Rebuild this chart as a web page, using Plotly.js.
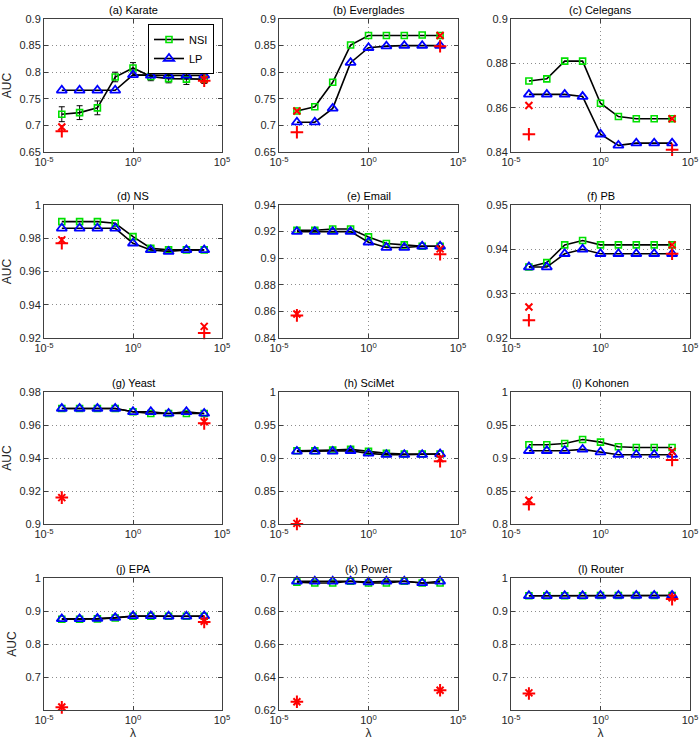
<!DOCTYPE html>
<html>
<head>
<meta charset="utf-8">
<script src="https://cdn.plot.ly/plotly-3.0.1.min.js"></script>
<style>
  html, body { margin: 0; padding: 0; background: #fff; }
  #chart { width: 700px; height: 744px; }
</style>
</head>
<body>
<div id="chart"></div>
<script>
// ---------------- data ----------------
const lambda = [1e-4, 1e-3, 1e-2, 1e-1, 1, 1e1, 1e2, 1e3, 1e4];
const redLambda = [1e-4, 1e4];

const titles = ['(a) Karate', '(b) Everglades', '(c) Celegans', '(d) NS', '(e) Email', '(f) PB',
                '(g) Yeast', '(h) SciMet', '(i) Kohonen', '(j) EPA', '(k) Power', '(l) Router'];

const nsiA = [0.721, 0.724, 0.733, 0.791, 0.808, 0.792, 0.788, 0.787, 0.787];
const lpA  = [0.766, 0.766, 0.766, 0.766, 0.795, 0.794, 0.794, 0.794, 0.794];
const errA = [0.014, 0.013, 0.013, 0.009, 0.010, 0.008, 0.008, 0.010, 0.008];
const redXA = [0.697, 0.786], redPlusA = [0.689, 0.784];

const nsiB = [0.727, 0.735, 0.781, 0.851, 0.869, 0.869, 0.869, 0.870, 0.869];
const lpB  = [0.706, 0.706, 0.732, 0.818, 0.846, 0.849, 0.850, 0.850, 0.850];
const redXB = [0.727, 0.869], redPlusB = [0.687, 0.849];

const nsiC = [0.872, 0.873, 0.881, 0.881, 0.862, 0.856, 0.855, 0.855, 0.855];
const lpC  = [0.866, 0.866, 0.866, 0.865, 0.848, 0.843, 0.844, 0.844, 0.844];
const redXC = [0.861, 0.855], redPlusC = [0.848, 0.841];

const nsiD = [0.990, 0.990, 0.990, 0.989, 0.981, 0.974, 0.973, 0.973, 0.973];
const lpD  = [0.986, 0.986, 0.986, 0.986, 0.977, 0.973, 0.972, 0.973, 0.973];
const redXD = [0.979, 0.927], redPlusD = [0.977, 0.923];

const nsiE = [0.921, 0.921, 0.922, 0.922, 0.916, 0.911, 0.910, 0.909, 0.909];
const lpE  = [0.920, 0.920, 0.920, 0.920, 0.912, 0.908, 0.908, 0.909, 0.909];
const redXE = [0.858, 0.907], redPlusE = [0.857, 0.903];

const nsiF = [0.936, 0.937, 0.941, 0.942, 0.941, 0.941, 0.941, 0.941, 0.941];
const lpF  = [0.936, 0.936, 0.939, 0.940, 0.939, 0.939, 0.939, 0.939, 0.939];
const redXF = [0.927, 0.941], redPlusF = [0.924, 0.939];

const nsiG = [0.970, 0.970, 0.970, 0.970, 0.968, 0.967, 0.967, 0.967, 0.967];
const lpG  = [0.970, 0.970, 0.970, 0.970, 0.968, 0.968, 0.967, 0.968, 0.967];
const redXG = [0.916, 0.962], redPlusG = [0.916, 0.961];

const nsiH = [0.911, 0.911, 0.912, 0.913, 0.910, 0.907, 0.906, 0.906, 0.906];
const lpH  = [0.910, 0.910, 0.910, 0.911, 0.907, 0.905, 0.905, 0.905, 0.906];
const redXH = [0.801, 0.899], redPlusH = [0.800, 0.895];

const nsiI = [0.920, 0.920, 0.922, 0.928, 0.924, 0.917, 0.916, 0.916, 0.916];
const lpI  = [0.911, 0.911, 0.911, 0.913, 0.909, 0.905, 0.905, 0.905, 0.905];
const redXI = [0.836, 0.910], redPlusI = [0.830, 0.897];

const nsiJ = [0.875, 0.875, 0.876, 0.879, 0.884, 0.884, 0.884, 0.884, 0.884];
const lpJ  = [0.876, 0.876, 0.877, 0.880, 0.885, 0.885, 0.884, 0.884, 0.885];
const redXJ = [0.609, 0.869], redPlusJ = [0.608, 0.867];

const nsiK = [0.6975, 0.697, 0.697, 0.698, 0.697, 0.697, 0.698, 0.697, 0.697];
const lpK  = [0.698, 0.698, 0.698, 0.698, 0.6975, 0.698, 0.698, 0.697, 0.698];
const redXK = [0.625, 0.632], redPlusK = [0.625, 0.632];

const nsiL = [0.946, 0.946, 0.946, 0.946, 0.947, 0.947, 0.947, 0.947, 0.947];
const lpL  = [0.946, 0.946, 0.946, 0.946, 0.947, 0.947, 0.947, 0.947, 0.947];
const redXL = [0.652, 0.940], redPlusL = [0.650, 0.936];

// y-axis ticks per panel
const yTicksA = [0.65, 0.7, 0.75, 0.8, 0.85, 0.9];
const yTicksB = [0.65, 0.7, 0.75, 0.8, 0.85, 0.9];
const yTicksC = [0.84, 0.86, 0.88, 0.9];
const yTicksD = [0.92, 0.94, 0.96, 0.98, 1];
const yTicksE = [0.84, 0.86, 0.88, 0.9, 0.92, 0.94];
const yTicksF = [0.92, 0.93, 0.94, 0.95];
const yTicksG = [0.9, 0.92, 0.94, 0.96, 0.98];
const yTicksH = [0.8, 0.85, 0.9, 0.95, 1];
const yTicksI = [0.8, 0.85, 0.9, 0.95, 1];
const yTicksJ = [0.7, 0.8, 0.9, 1];
const yTicksK = [0.62, 0.64, 0.66, 0.68, 0.7];
const yTicksL = [0.7, 0.8, 0.9, 1];
const yRanges = [[0.65, 0.9], [0.65, 0.9], [0.84, 0.9], [0.92, 1], [0.84, 0.94], [0.92, 0.95],
                 [0.9, 0.98], [0.8, 1], [0.8, 1], [0.6, 1], [0.62, 0.7], [0.6, 1]];

const xTickVals = [1e-5, 1, 1e5];
const xTickText = ['10<sup>-5</sup>', '10<sup>0</sup>', '10<sup>5</sup>'];

// ---------------- build ----------------
const panels = [
  [nsiA, lpA, redXA, redPlusA, yTicksA], [nsiB, lpB, redXB, redPlusB, yTicksB],
  [nsiC, lpC, redXC, redPlusC, yTicksC], [nsiD, lpD, redXD, redPlusD, yTicksD],
  [nsiE, lpE, redXE, redPlusE, yTicksE], [nsiF, lpF, redXF, redPlusF, yTicksF],
  [nsiG, lpG, redXG, redPlusG, yTicksG], [nsiH, lpH, redXH, redPlusH, yTicksH],
  [nsiI, lpI, redXI, redPlusI, yTicksI], [nsiJ, lpJ, redXJ, redPlusJ, yTicksJ],
  [nsiK, lpK, redXK, redPlusK, yTicksK], [nsiL, lpL, redXL, redPlusL, yTicksL]
];

const W = 700, H = 744;
const colPx = [[44, 222], [279, 458], [511, 690]];
const rowPx = [[19, 152], [205, 338], [392, 524], [578, 710]];

const FONT = 'Liberation Sans, Arial, Helvetica, sans-serif';
const traces = [];
const layout = {
  width: W, height: H,
  margin: {l: 0, r: 0, t: 0, b: 0},
  paper_bgcolor: '#fff', plot_bgcolor: '#fff',
  font: {family: FONT, size: 11, color: '#262626'},
  showlegend: true,
  legend: {
    x: 148 / W, y: 1 - 24 / H, xanchor: 'left', yanchor: 'top',
    bgcolor: '#fff', bordercolor: '#000', borderwidth: 1,
    font: {family: FONT, size: 11, color: '#000'},
    tracegroupgap: 0, itemwidth: 30
  },
  annotations: []
};

panels.forEach((p, i) => {
  const [nsi, lp, rx, rp, yt] = p;
  const r = Math.floor(i / 3), c = i % 3;
  const n = i + 1;
  const xa = 'x' + (n === 1 ? '' : n), ya = 'y' + (n === 1 ? '' : n);
  const xKey = 'xaxis' + (n === 1 ? '' : n), yKey = 'yaxis' + (n === 1 ? '' : n);
  const xd = [colPx[c][0] / W, colPx[c][1] / W];
  const yd = [1 - rowPx[r][1] / H, 1 - rowPx[r][0] / H];

  const nsiTrace = {
    x: lambda, y: nsi, xaxis: xa, yaxis: ya, type: 'scatter', mode: 'lines+markers',
    name: 'NSI', showlegend: i === 0, cliponaxis: false,
    line: {color: '#000', width: 1.6},
    marker: {symbol: 'square-open', size: 6, color: '#00e000', line: {color: '#00e000', width: 1.6}}
  };
  if (i === 0) {
    nsiTrace.error_y = {type: 'data', array: errA, visible: true, color: '#000', thickness: 1, width: 3};
  }
  traces.push(nsiTrace);
  traces.push({
    x: lambda, y: lp, xaxis: xa, yaxis: ya, type: 'scatter', mode: 'lines+markers',
    name: 'LP', showlegend: i === 0, cliponaxis: false,
    line: {color: '#000', width: 1.6},
    marker: {symbol: 'triangle-up-open', size: 9, color: '#0000ff', line: {color: '#0000ff', width: 1.8}}
  });
  traces.push({
    x: redLambda, y: rx, xaxis: xa, yaxis: ya, type: 'scatter', mode: 'markers',
    showlegend: false, hoverinfo: 'skip', cliponaxis: false,
    marker: {symbol: 'x-thin-open', size: 7, color: '#ff0000', line: {color: '#ff0000', width: 2}}
  });
  traces.push({
    x: redLambda, y: rp, xaxis: xa, yaxis: ya, type: 'scatter', mode: 'markers',
    showlegend: false, hoverinfo: 'skip', cliponaxis: false,
    marker: {symbol: 'cross-thin-open', size: 9, color: '#ff0000', line: {color: '#ff0000', width: 2}}
  });

  layout[xKey] = {
    domain: xd, anchor: ya, type: 'log', range: [-5, 5],
    tickmode: 'array', tickvals: xTickVals, ticktext: xTickText,
    showline: true, linecolor: '#404040', linewidth: 1, mirror: 'ticks',
    ticks: 'inside', ticklen: 4, tickcolor: '#404040',
    showgrid: true, gridcolor: '#8c8c8c', griddash: '1px,3px', gridwidth: 1,
    zeroline: false, fixedrange: true,
    tickfont: {family: FONT, size: 11, color: '#262626'}
  };
  if (r === 3) {
    layout[xKey].title = {text: 'λ', font: {family: FONT, size: 12, color: '#262626'}, standoff: 3};
  }
  layout[yKey] = {
    domain: yd, anchor: xa, range: yRanges[i],
    tickmode: 'array', tickvals: yt, ticktext: yt.map(v => String(v)),
    showline: true, linecolor: '#404040', linewidth: 1, mirror: 'ticks',
    ticks: 'inside', ticklen: 4, tickcolor: '#404040',
    showgrid: true, gridcolor: '#8c8c8c', griddash: '1px,3px', gridwidth: 1,
    zeroline: false, fixedrange: true,
    tickfont: {family: FONT, size: 11, color: '#262626'}
  };
  if (c === 0) {
    layout[yKey].title = {text: 'AUC', font: {family: FONT, size: 12, color: '#262626'}, standoff: 6};
  }
  layout.annotations.push({
    text: titles[i], xref: 'paper', yref: 'paper',
    x: (xd[0] + xd[1]) / 2, y: yd[1], xanchor: 'center', yanchor: 'bottom', yshift: 1,
    showarrow: false, font: {family: FONT, size: 11, color: '#000'}
  });
});

Plotly.newPlot('chart', traces, layout, {displayModeBar: false, staticPlot: true});
</script>
</body>
</html>
